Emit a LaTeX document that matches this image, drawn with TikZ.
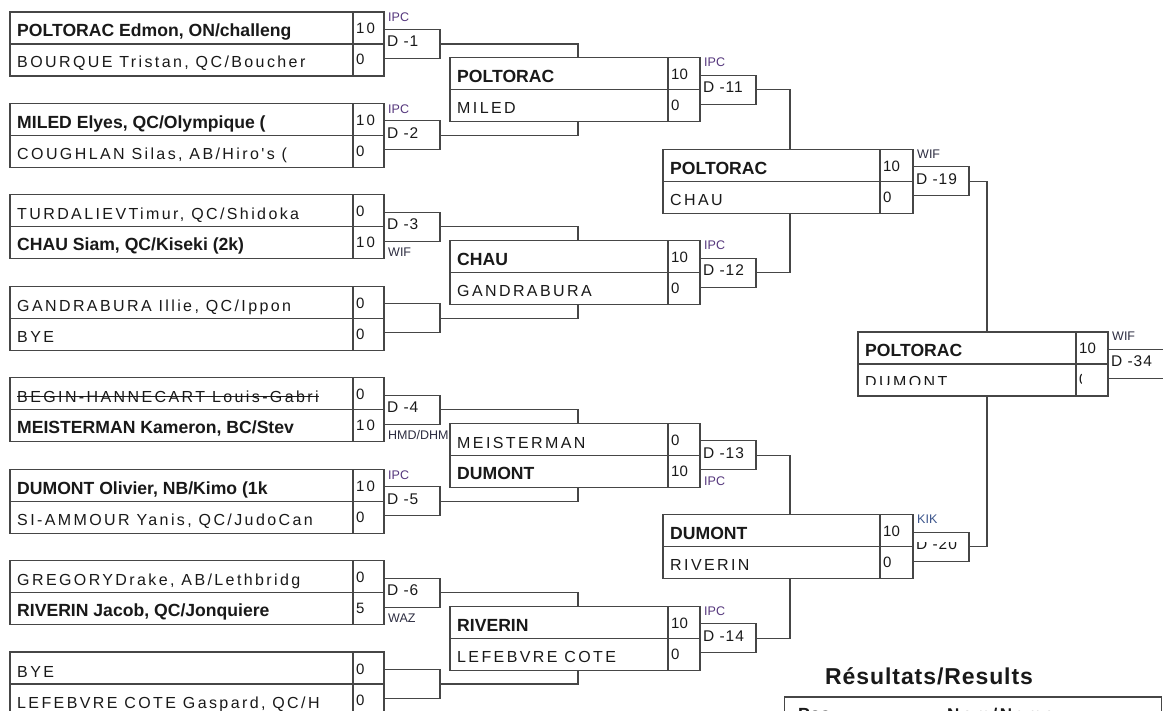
\documentclass[tikz,border=0pt]{standalone}
\usepackage{fontspec}
\setmainfont{Liberation Sans}
\newfontfamily\spaced[LetterSpace=15]{Liberation Sans}
\newfontfamily\spacedb[LetterSpace=6]{Liberation Sans}
\newfontfamily\spacedc[LetterSpace=4]{Liberation Sans}
\definecolor{lc}{RGB}{70,70,70}
\definecolor{tc}{RGB}{25,25,25}
\definecolor{ipc}{RGB}{85,55,125}
\definecolor{wif}{RGB}{45,45,65}
\definecolor{kik}{RGB}{60,85,140}
\tikzset{
 ln/.style={draw=lc, line width=1.1pt},
 mbox/.style={draw=lc, line width=1.1pt, fill=white, inner sep=0pt, outer sep=0pt, minimum height=64pt, anchor=west},
 dbox/.style={draw=lc, line width=1.1pt, fill=white, inner sep=0pt, outer sep=0pt, minimum width=56pt, minimum height=29pt, anchor=west},
 win/.style={anchor=base west, inner sep=0pt, text=tc, font=\fontsize{17.6}{20}\selectfont\bfseries},
 lose/.style={anchor=base west, inner sep=0pt, text=tc, font=\spaced\fontsize{16}{19}\selectfont},
 sc/.style={anchor=base west, inner sep=0pt, text=tc, font=\fontsize{15}{18}\selectfont},
 dlab/.style={anchor=base west, inner sep=0pt, text=tc, font=\spacedb\fontsize{15.5}{18}\selectfont},
 res/.style={anchor=base west, inner sep=0pt, font=\fontsize{12.5}{14}\selectfont},
}
\newcommand\mymatch[5]{%
  \pgfmathsetmacro\mw{#3-#2}%
  \node[mbox, minimum width=\mw pt] (#1) at (#2,#5) {};
  \draw[ln] (#1.west) -- (#1.east);
  \coordinate (#1-d) at (#4,#5);
  \draw[ln] (#1-d |- #1.north) -- (#1-d |- #1.south);
}
\newcommand\players[7]{%
  \node[#2] (#1-t) at ([xshift=7pt,yshift=7pt]#1.west) {#3};
  \node[sc] (#1-ts) at ([xshift=3pt,yshift=10pt]#1-d) {#4};
  \node[#5] (#1-b) at ([xshift=7pt,yshift=-24pt]#1.west) {#6};
  \node[sc] (#1-bs) at ([xshift=3pt,yshift=-21pt]#1-d) {#7};
}
\newcommand\dbx[3]{%
  \node[dbox] (#1) at (#2.east) {};
  \node[dlab] (#1-t) at ([xshift=3pt,yshift=-3pt]#1.west) {#3};
}
\newcommand\lab[4]{%
  \node[res, text=#3] (#1-r) at ([xshift=4pt,yshift=#2]#1.west) {#4};
}
\begin{document}
\begin{tikzpicture}[x=1pt,y=-1pt]
\useasboundingbox (0,0) rectangle (1163,711);
\clip (0,0) rectangle (1163,711);
\fill[white] (0,0) rectangle (1163,711);

% ---------- round 1
\mymatch{m1}{10}{384}{353}{44}
\players{m1}{win}{POLTORAC Edmon, ON/challeng}{1\kern2pt0}{lose}{BOURQUE Tristan, QC/Boucher}{0}
\mymatch{m2}{10}{384}{353}{135.43}
\players{m2}{win}{MILED Elyes, QC/Olympique (}{1\kern2pt0}{lose}{COUGHLAN Silas, AB/Hiro's (}{0}
\mymatch{m3}{10}{384}{353}{226.86}
\players{m3}{lose}{TURDALIEVTimur, QC/Shidoka}{0}{win}{CHAU Siam, QC/Kiseki (2k)}{1\kern2pt0}
\mymatch{m4}{10}{384}{353}{318.29}
\players{m4}{lose}{GANDRABURA Illie, QC/Ippon}{0}{lose}{BYE}{0}
\mymatch{m5}{10}{384}{353}{409.71}
\players{m5}{lose}{BEGIN-HANNECART Louis-Gabri}{0}{win}{MEISTERMAN Kameron, BC/Stev}{1\kern2pt0}
\draw[line width=1pt, tc] ([yshift=6pt]m5-t.base west) -- ([yshift=6pt]m5-t.base east);
\mymatch{m6}{10}{384}{353}{501.14}
\players{m6}{win}{DUMONT Olivier, NB/Kimo (1k}{1\kern2pt0}{lose}{SI-AMMOUR Yanis, QC/JudoCan}{0}
\mymatch{m7}{10}{384}{353}{592.57}
\players{m7}{lose}{GREGORYDrake, AB/Lethbridg}{0}{win}{RIVERIN Jacob, QC/Jonquiere}{5}
\mymatch{m8}{10}{384}{353}{684}
\players{m8}{lose}{BYE}{0}{lose}{LEFEBVRE COTE Gaspard, QC/H}{0}

\dbx{d1}{m1}{D -1}  \lab{d1}{22pt}{ipc}{IPC}
\dbx{d2}{m2}{D -2}  \lab{d2}{22pt}{ipc}{IPC}
\dbx{d3}{m3}{D -3}  \lab{d3}{-30pt}{wif}{WIF}
\node[dbox] (d4b) at (m4.east) {};
\dbx{d4}{m5}{D -4}
\dbx{d5}{m6}{D -5}  \lab{d5}{22pt}{ipc}{IPC}
\dbx{d6}{m7}{D -6}  \lab{d6}{-30pt}{wif}{WAZ}
\node[dbox] (d8b) at (m8.east) {};

% ---------- round 2
\mymatch{r2a}{450}{700}{668}{89.71}
\players{r2a}{win}{POLTORAC}{10}{lose}{MILED}{0}
\mymatch{r2b}{450}{700}{668}{272.57}
\players{r2b}{win}{CHAU}{10}{lose}{GANDRABURA}{0}
\mymatch{r2c}{450}{700}{668}{455.43}
\players{r2c}{lose}{MEISTERMAN}{0}{win}{DUMONT}{10}
\mymatch{r2d}{450}{700}{668}{638.29}
\players{r2d}{win}{RIVERIN}{10}{lose}{LEFEBVRE COTE}{0}

\draw[ln] (d1.east) -| ([xshift=3pt]r2a.north);
\draw[ln] (d2.east) -| ([xshift=3pt]r2a.south);
\draw[ln] (d3.east) -| ([xshift=3pt]r2b.north);
\draw[ln] (d4b.east) -| ([xshift=3pt]r2b.south);
\draw[ln] (d4.east) -| ([xshift=3pt]r2c.north);
\draw[ln] (d5.east) -| ([xshift=3pt]r2c.south);
\draw[ln] (d6.east) -| ([xshift=3pt]r2d.north);
\draw[ln] (d8b.east) -| ([xshift=3pt]r2d.south);
\lab{d4}{-30pt}{wif}{HMD/DHM}

\dbx{d11}{r2a}{D -11} \lab{d11}{23pt}{ipc}{IPC}
\dbx{d12}{r2b}{D -12} \lab{d12}{23pt}{ipc}{IPC}
\dbx{d13}{r2c}{D -13} \lab{d13}{-30pt}{ipc}{IPC}
\dbx{d14}{r2d}{D -14} \lab{d14}{23pt}{ipc}{IPC}

% ---------- round 3
\mymatch{r3a}{663}{913}{880}{181.14}
\players{r3a}{win}{POLTORAC}{10}{lose}{CHAU}{0}
\mymatch{r3b}{663}{913}{880}{546.86}
\players{r3b}{win}{DUMONT}{10}{lose}{RIVERIN}{0}

\draw[ln] (d11.east) -| ([xshift=2pt]r3a.north);
\draw[ln] (d12.east) -| ([xshift=2pt]r3a.south);
\draw[ln] (d13.east) -| ([xshift=2pt]r3b.north);
\draw[ln] (d14.east) -| ([xshift=2pt]r3b.south);

\dbx{d19}{r3a}{D -19} \lab{d19}{23pt}{wif}{WIF}
\node[dbox] (d20) at (r3b.east) {};
\begin{scope}
  \clip (913,542) rectangle (968,560);
  \node[dlab] (d20-t) at ([xshift=3pt,yshift=-3pt]d20.west) {D -20};
\end{scope}
\lab{d20}{23pt}{kik}{KIK}

% ---------- final
\node[mbox, minimum width=250pt] (fin) at (858,364) {};
\draw[ln] (fin.west) -- (fin.east);
\coordinate (fin-d) at (1076,364);
\draw[ln] (fin-d |- fin.north) -- (fin-d |- fin.south);
\node[win] (fin-t) at ([xshift=7pt,yshift=7pt]fin.west) {POLTORAC};
\node[sc] (fin-ts) at ([xshift=3pt,yshift=10pt]fin-d) {10};
\begin{scope}
  \clip (860,366) rectangle (1074,385);
  \node[lose] (fin-b) at ([xshift=7pt,yshift=-24pt]fin.west) {DUMONT};
\end{scope}
\begin{scope}
  \clip (1077,366) rectangle (1081.5,394);
  \node[sc] (fin-bs) at ([xshift=3pt,yshift=-21pt]fin-d) {0};
\end{scope}
\draw[ln] (d19.east) -| ([xshift=4pt]fin.north);
\draw[ln] (d20.east) -| ([xshift=4pt]fin.south);
\node[dbox, minimum width=60pt] (d34) at (fin.east) {};
\node[dlab] (d34-t) at ([xshift=3pt,yshift=-3pt]d34.west) {D -34};
\lab{d34}{23pt}{wif}{WIF}

% ---------- results
\node[anchor=base west, inner sep=0pt, text=tc, font=\spacedc\fontsize{23}{26}\selectfont\bfseries] (rt) at (825,684) {Résultats/Results};
\node[draw=lc, line width=1.1pt, minimum width=377pt, minimum height=40pt, anchor=north west, inner sep=0pt] (tbl) at (784,697) {};
\draw[lc, line width=2.4pt] (tbl.north west) -- (tbl.north east);
\node[win] (tp) at (798,720) {Pos};
\node[anchor=base west, inner sep=0pt, text=tc, font=\spaced\fontsize{17}{20}\selectfont\bfseries] (tn) at (947,720) {Nom/Name};
\end{tikzpicture}
\end{document}
